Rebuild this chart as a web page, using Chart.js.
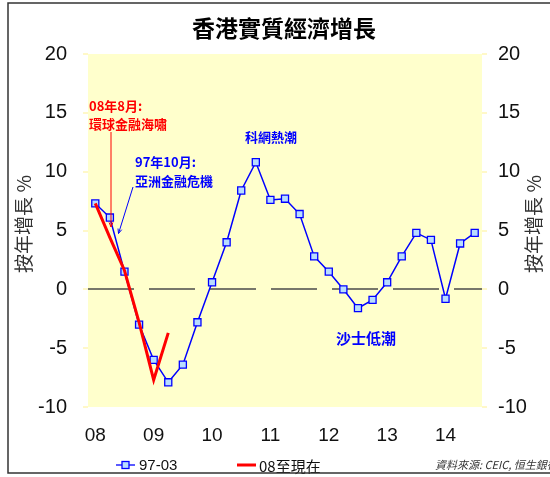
<!DOCTYPE html>
<html>
<head>
<meta charset="utf-8">
<title>香港實質經濟增長</title>
<script src="https://cdn.jsdelivr.net/npm/chart.js@4.4.1/dist/chart.umd.min.js"></script>
<style>
  html, body { margin: 0; padding: 0; background: #ffffff; }
  canvas { display: block; }
</style>
</head>
<body>
<canvas id="grafico" width="550" height="477"></canvas>
<script>
//-------------------------- Dados --------------------------
const trimestres = [
    "08Q1", "08Q2", "08Q3", "08Q4", "09Q1", "09Q2", "09Q3", "09Q4",
    "10Q1", "10Q2", "10Q3", "10Q4", "11Q1", "11Q2", "11Q3", "11Q4",
    "12Q1", "12Q2", "12Q3", "12Q4", "13Q1", "13Q2", "13Q3", "13Q4",
    "14Q1", "14Q2", "14Q3",
];
const rotulosAnos = ["08", "09", "10", "11", "12", "13", "14"];

// 97-03 (azul)
const serie9703 = [
    7.3, 6.1, 1.5, -3.0, -6.0, -7.9, -6.4, -2.8,
    0.6, 4.0, 8.4, 10.8, 7.6, 7.7, 6.4, 2.8,
    1.5, 0.0, -1.6, -0.9, 0.6, 2.8, 4.8, 4.2,
    -0.8, 3.9, 4.8,
];

// 08至現在 (vermelho)
const serie08 = [7.3, 4.4, 1.6, -2.8, -7.7, -3.7];

const rotulosY = [-10, -5, 0, 5, 10, 15, 20];

//-------------------------- Estilo --------------------------
const fonteCJK = '"Noto Sans CJK TC", "Noto Sans", sans-serif';
const fonteNum = '"Liberation Sans", Arial, sans-serif';

function seta(ctx, x1, y1, x2, y2, cor) {
    const ang = Math.atan2(y2 - y1, x2 - x1);
    ctx.strokeStyle = cor;
    ctx.lineWidth = 1;
    ctx.beginPath();
    ctx.moveTo(x1, y1);
    ctx.lineTo(x2, y2);
    ctx.moveTo(x2, y2);
    ctx.lineTo(x2 - 5 * Math.cos(ang - 0.4), y2 - 5 * Math.sin(ang - 0.4));
    ctx.moveTo(x2, y2);
    ctx.lineTo(x2 - 5 * Math.cos(ang + 0.4), y2 - 5 * Math.sin(ang + 0.4));
    ctx.stroke();
}

const desenhoExtra = {
    id: "desenhoExtra",
    beforeDraw(chart) {
        const { ctx, chartArea: a } = chart;
        ctx.save();
        ctx.fillStyle = "#ffffff";
        ctx.fillRect(0, 0, chart.width, chart.height);
        ctx.fillStyle = "#ffffcc";
        ctx.fillRect(a.left, a.top, a.right - a.left, a.bottom - a.top);
        ctx.restore();
    },
    afterDraw(chart) {
        const ctx = chart.ctx;
        ctx.save();

        // titulo
        ctx.fillStyle = "#000000";
        ctx.font = `bold 23px ${fonteCJK}`;
        ctx.textAlign = "center";
        ctx.textBaseline = "middle";
        ctx.fillText("香港實質經濟增長", 284, 28);

        // titulos dos eixos y
        ctx.font = `19px ${fonteCJK}`;
        ctx.fillStyle = "#333333";
        [24, 534].forEach((x) => {
            ctx.save();
            ctx.translate(x, 224);
            ctx.rotate(-Math.PI / 2);
            ctx.fillText("按年增長 %", 0, 0);
            ctx.restore();
        });

        // anotacoes
        ctx.textAlign = "left";
        ctx.font = `bold 13px ${fonteCJK}`;
        ctx.fillStyle = "#ff0000";
        ctx.fillText("08年8月:", 89, 106);
        ctx.fillText("環球金融海嘯", 89, 124);
        seta(ctx, 111, 132, 111, 227, "#ff0000");

        ctx.fillStyle = "#0000ff";
        ctx.fillText("97年10月:", 135, 162);
        ctx.fillText("亞洲金融危機", 135, 181);
        seta(ctx, 133, 187, 118.5, 233.5, "#0000ff");

        ctx.textAlign = "center";
        ctx.fillText("科網熱潮", 271, 137);
        ctx.font = `bold 15px ${fonteCJK}`;
        ctx.fillText("沙士低潮", 366, 338);

        // legenda
        ctx.strokeStyle = "#0000ff";
        ctx.lineWidth = 1.3;
        ctx.beginPath();
        ctx.moveTo(116, 465);
        ctx.lineTo(135, 465);
        ctx.stroke();
        ctx.fillStyle = "#b8dcff";
        ctx.fillRect(122, 461.5, 7, 7);
        ctx.strokeRect(122, 461.5, 7, 7);

        ctx.strokeStyle = "#ff0000";
        ctx.lineWidth = 3;
        ctx.beginPath();
        ctx.moveTo(237, 465);
        ctx.lineTo(256, 465);
        ctx.stroke();

        ctx.fillStyle = "#111111";
        ctx.textAlign = "left";
        ctx.font = `15px ${fonteNum}`;
        ctx.fillText("97-03", 139, 466);
        ctx.font = `15px ${fonteCJK}`;
        ctx.fillText("08至現在", 259, 466);

        // fonte dos dados
        ctx.font = `italic 11px ${fonteCJK}`;
        ctx.fillStyle = "#333333";
        ctx.fillText("資料來源: CEIC, 恒生銀行", 435, 465);

        // borda
        ctx.strokeStyle = "#333333";
        ctx.lineWidth = 1.5;
        ctx.strokeRect(8, 3, 560, 470);

        ctx.restore();
    },
};

//-------------------------- Grafico --------------------------
function desenharGrafico() {
    const ctx = document.getElementById("grafico").getContext("2d");

    const eixoY = (lado) => ({
        type: "linear",
        position: lado,
        min: -10,
        max: 20,
        afterBuildTicks: (scale) => {
            scale.ticks = rotulosY.map((v) => ({ value: v }));
        },
        afterFit: (scale) => {
            scale.width = lado === "left" ? 88 : 68;
        },
        grid: {
            drawOnChartArea: lado === "left",
            color: (c) => (c.tick && c.tick.value === 0 ? "#77776a" : "rgba(0,0,0,0)"),
            lineWidth: 2,
            tickColor: "#fff8c8",
            tickLength: 5,
        },
        border: { display: false, dash: [46, 15] },
        ticks: {
            padding: lado === "left" ? 16 : 11,
            color: "#111111",
            font: { family: fonteNum, size: 20 },
        },
    });

    new Chart(ctx, {
        type: "line",
        data: {
            labels: trimestres,
            datasets: [
                {
                    label: "08至現在",
                    data: serie08,
                    borderColor: "#ff0000",
                    borderWidth: 3,
                    pointRadius: 0,
                    tension: 0,
                    yAxisID: "y",
                },
                {
                    label: "97-03",
                    data: serie9703,
                    borderColor: "#0000ff",
                    borderWidth: 1.5,
                    pointStyle: "rect",
                    pointRadius: 5,
                    pointBackgroundColor: "#b8dcff",
                    pointBorderColor: "#0000ff",
                    pointBorderWidth: 1.3,
                    tension: 0,
                    yAxisID: "y",
                },
            ],
        },
        options: {
            responsive: false,
            animation: false,
            devicePixelRatio: 1,
            layout: { padding: { top: 54, left: 0, right: 0, bottom: 0 } },
            plugins: {
                legend: { display: false },
                title: { display: false },
                tooltip: { enabled: false },
            },
            scales: {
                x: {
                    type: "category",
                    offset: true,
                    afterFit: (scale) => {
                        scale.height = 70;
                    },
                    grid: { display: false, drawTicks: false },
                    border: { display: false },
                    ticks: {
                        autoSkip: false,
                        maxRotation: 0,
                        padding: 17,
                        color: "#111111",
                        font: { family: fonteNum, size: 19 },
                        callback: (valor, i) => (i % 4 === 0 ? rotulosAnos[i / 4] : ""),
                    },
                },
                y: eixoY("left"),
                y2: eixoY("right"),
            },
        },
        plugins: [desenhoExtra],
    });
}

document.addEventListener("DOMContentLoaded", desenharGrafico);
</script>
</body>
</html>
